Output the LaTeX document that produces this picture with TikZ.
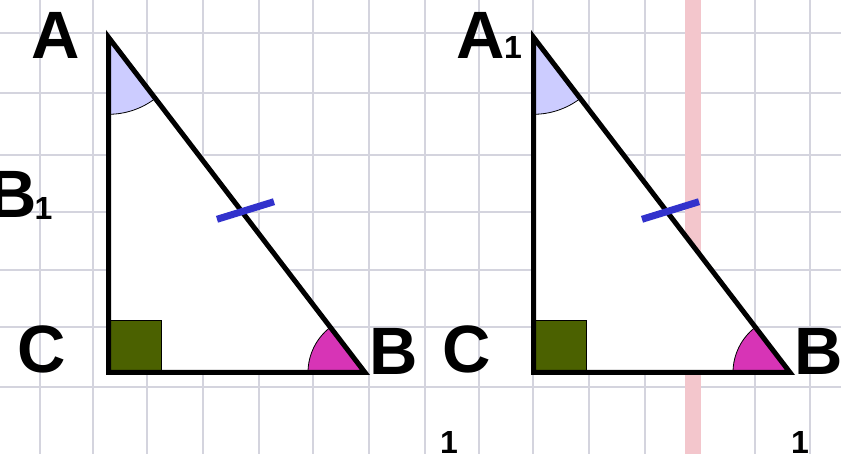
\documentclass[tikz,border=0pt]{standalone}
\usepackage{fontspec}
\setmainfont{Liberation Sans}
\definecolor{gridc}{RGB}{212,212,222}
\definecolor{stripe}{RGB}{243,198,204}
\definecolor{lav}{RGB}{204,204,255}
\definecolor{mag}{RGB}{215,52,182}
\definecolor{olive}{RGB}{75,97,0}
\definecolor{tick}{RGB}{50,50,204}
\tikzset{
  gridline/.style={draw=gridc, line width=1.6pt},
  side/.style={draw=black, line width=5pt, line join=miter},
  lbl/.style={inner sep=0pt, anchor=base, font=\fontsize{67}{67}\selectfont\bfseries},
  sub/.style={inner sep=0pt, anchor=base, font=\fontsize{32}{32}\selectfont\bfseries},
  angA/.style={fill=lav, draw=black, line width=0.8pt},
  angB/.style={fill=mag, draw=black, line width=0.8pt},
  rightang/.style={fill=olive, draw=black, line width=0.9pt},
  tickmark/.style={draw=tick, line width=7pt}
}
\begin{document}
\begin{tikzpicture}[x=1pt, y=-1pt]
\useasboundingbox (0,0) rectangle (841,454);
\clip (0,0) rectangle (841,454);
\fill[white] (0,0) rectangle (841,454);
% grid
\foreach \gx in {40,93,147,203,259,313,369,425,479,533,589,645,700,755,810}
  \draw[gridline] (\gx,0) -- (\gx,454);
\foreach \gy in {33,93,155,212,270,327,387}
  \draw[gridline] (0,\gy) -- (841,\gy);
\draw[gridc, line width=2.4pt] (203,0) -- (203,454);
% red stripe
\fill[stripe] (685,0) rectangle (701,454);
% triangles
\foreach \dx/\n in {0/a, 425/b} {
  \begin{scope}[xshift=\dx pt]
    \coordinate (A\n) at (108.5,37.3);
    \coordinate (C\n) at (108.5,372.5);
    \coordinate (B\n) at (365,372.5);
    \fill[white] (A\n) -- (B\n) -- (C\n) -- cycle;
    \filldraw[angA] (A\n) -- ++(-90:77pt) arc[start angle=-90, end angle=-52.6, radius=77pt] -- cycle;
    \filldraw[angB] (B\n) -- ++(127.4:57pt) arc[start angle=127.4, end angle=180, radius=57pt] -- cycle;
    \filldraw[rightang] (C\n) rectangle (161.5,320);
    \draw[side] (A\n) -- (B\n) -- (C\n) -- cycle;
    \coordinate (T1\n) at (217,219.3);
    \coordinate (T2\n) at (274,201.7);
    \draw[tickmark] (T1\n) -- (T2\n);
  \end{scope}
}
% labels
\node[lbl] (lA) at (56,59) {A};
\node[lbl] (lB1) at (13,218) {B};
\node[sub] (lB1s) at (43.5,220) {1};
\node[lbl] (lC) at (41.5,373) {C};
\node[lbl] (lB) at (393.5,374) {B};
\node[lbl] (lA1) at (481,59) {A};
\node[sub] (lA1s) at (513,59) {1};
\node[lbl] (lC1) at (466.5,373) {C};
\node[lbl] (lBb) at (818.5,374) {B};
\node[sub] (one1) at (449,453) {1};
\node[sub] (one2) at (800,453) {1};
\end{tikzpicture}
\end{document}
